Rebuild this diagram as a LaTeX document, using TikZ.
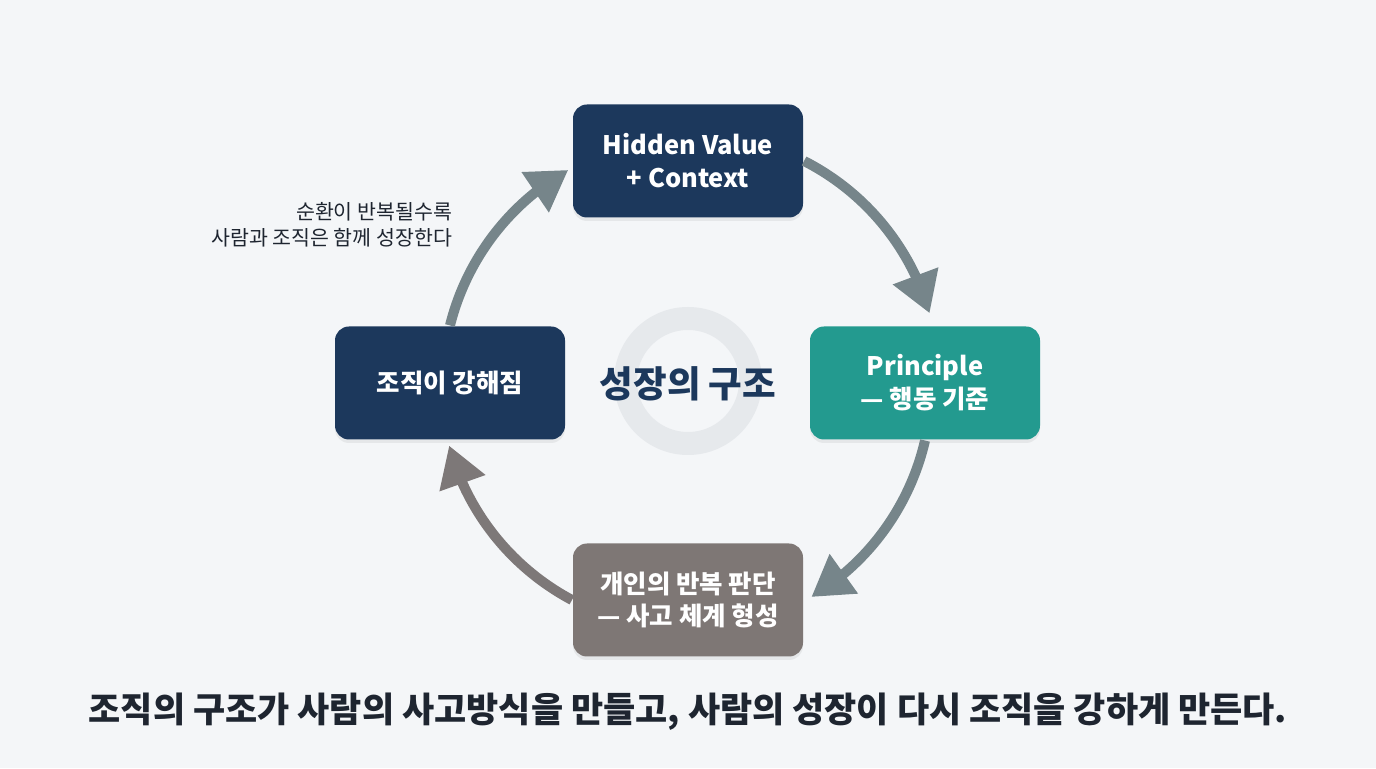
\documentclass[tikz,border=0pt]{standalone}
\usepackage{fontspec}
\setmainfont{Noto Sans CJK KR}
\usetikzlibrary{arrows.meta,bending,shadows}

\definecolor{paper}{HTML}{F4F6F8}
\definecolor{ring}{HTML}{E6E9EC}
\definecolor{navy}{HTML}{1C385C}
\definecolor{teal}{HTML}{239A8F}
\definecolor{stone}{HTML}{7E7775}
\definecolor{slate}{HTML}{76858A}
\definecolor{ash}{HTML}{7D7878}
\definecolor{ink}{HTML}{1E2530}

\def \loopr {4.95}

\begin{document}
\begin{tikzpicture}[very thick]

\fill[paper] (0,0) rectangle (27.52,15.36);
\useasboundingbox (0,0) rectangle (27.52,15.36);

\coordinate (hub) at (13.76,7.66);
\draw[ring, line width=0.46cm] (13.76,7.74) circle (1.25);

\begin{scope}[every node/.style={rounded corners=0.28cm, minimum width=4.6cm, minimum height=2.26cm,
  align=center, text=white, font=\bfseries\fontsize{14.5}{18.7}\selectfont,
  drop shadow={opacity=0.12, shadow xshift=0pt, shadow yshift=-0.07cm}}]
\node[fill=navy](value) at(13.76,12.14) {Hidden Value\\+ Context};
\node[fill=teal](principle) at(18.5,7.7) {Principle\\— 행동 기준};
\node[fill=stone](judge) at(13.76,3.36) {개인의 반복 판단\\— 사고 체계 형성};
\node[fill=navy](org) at(9.0,7.7) {조직이 강해짐};
\end{scope}

\node[text=navy, font=\bfseries\fontsize{20.8}{24}\selectfont](title) at(13.76,7.68) {성장의 구조};

\node[text=ink, align=right, anchor=east, font=\fontsize{11.7}{14.7}\selectfont](note) at(9.18,10.86)
  {순환이 반복될수록\\사람과 조직은 함께 성장한다};

\node[text=ink, font=\bfseries\fontsize{19.9}{24}\selectfont](motto) at(13.76,1.12)
  {조직의 구조가 사람의 사고방식을 만들고, 사람의 성장이 다시 조직을 강하게 만든다.};

\begin{scope}[line width=0.2cm, -{Triangle[length=0.8cm, width=0.92cm, flex]}]
\draw[slate] (value.east) arc[start angle=63, end angle=16, radius=\loopr];
\draw[slate] (principle.south) arc[start angle=-13, end angle=-59, radius=\loopr];
\draw[ash] (judge.west) arc[start angle=242, end angle=195, radius=\loopr];
\draw[slate] (org.north) arc[start angle=166, end angle=119.5, radius=\loopr];
\end{scope}

\end{tikzpicture}
\end{document}
